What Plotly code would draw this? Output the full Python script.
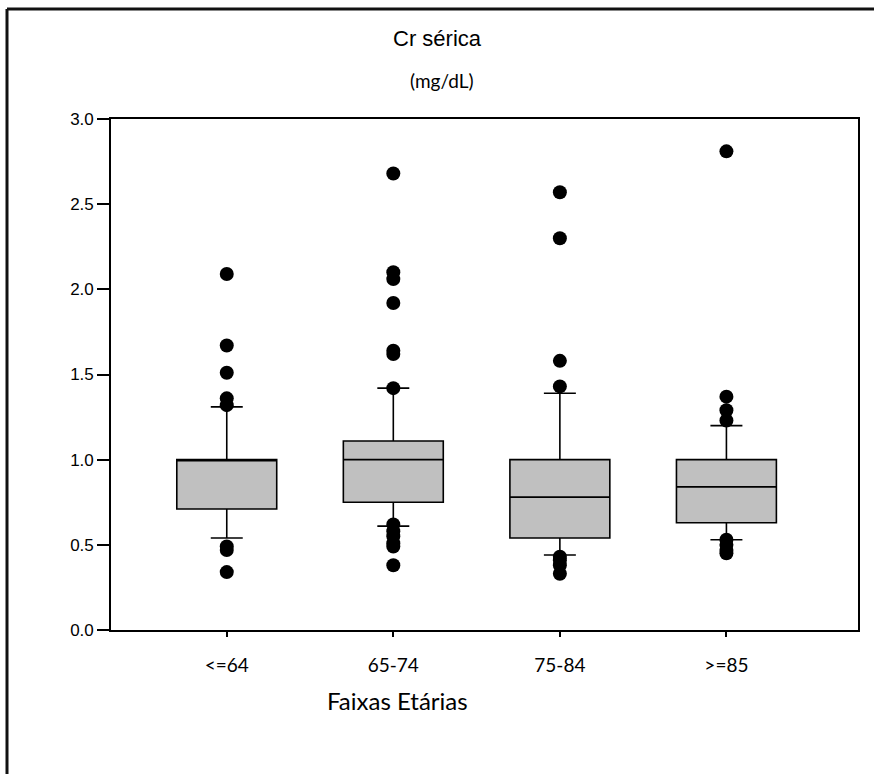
import plotly.graph_objects as go

categories = ["<=64", "65-74", "75-84", ">=85"]
q1 = [0.71, 0.75, 0.54, 0.63]
median = [1.0, 1.0, 0.78, 0.84]
q3 = [1.0, 1.11, 1.0, 1.0]
lowerfence = [0.54, 0.61, 0.44, 0.53]
upperfence = [1.31, 1.42, 1.39, 1.20]

outliers_le64 = [2.09, 1.67, 1.51, 1.36, 1.32, 0.49, 0.47, 0.34]
outliers_65_74 = [2.68, 2.10, 2.06, 1.92, 1.64, 1.62, 1.42, 0.62, 0.58, 0.55, 0.51, 0.49, 0.38]
outliers_75_84 = [2.57, 2.30, 1.58, 1.43, 0.43, 0.41, 0.38, 0.33]
outliers_ge85 = [2.81, 1.37, 1.29, 1.23, 0.53, 0.50, 0.47, 0.45]
outliers = [outliers_le64, outliers_65_74, outliers_75_84, outliers_ge85]

yticks = [0.0, 0.5, 1.0, 1.5, 2.0, 2.5, 3.0]

W, H = 874, 774
L, R, T, B = 111, 16, 119, 144
pw, ph = W - L - R, H - T - B

def px_x(p):
    return (p - L) / pw

def px_y(p):
    return (H - B - p) / ph

fig = go.Figure()
xs = list(range(len(categories)))
fig.add_trace(go.Box(
    x=xs, q1=q1, median=median, q3=q3,
    lowerfence=lowerfence, upperfence=upperfence,
    width=0.6, whiskerwidth=0.32,
    fillcolor="#c0c0c0", line=dict(color="black", width=1.6),
    boxpoints=False, showlegend=False, hoverinfo="skip",
))

ox, oy = [], []
for i, vals in enumerate(outliers):
    for v in vals:
        ox.append(i)
        oy.append(v)
fig.add_trace(go.Scatter(
    x=ox, y=oy, mode="markers",
    marker=dict(color="black", size=14, line=dict(width=0)),
    showlegend=False, hoverinfo="skip",
))

fig.update_layout(
    width=W, height=H,
    margin=dict(l=L, r=R, t=T, b=B),
    paper_bgcolor="white", plot_bgcolor="white",
    xaxis=dict(
        range=[-0.695, 3.79], tickmode="array", tickvals=xs, ticktext=categories,
        showline=True, linecolor="black", linewidth=1.6, mirror=True,
        ticks="outside", ticklen=5, tickcolor="black", tickwidth=1.5,
        ticklabelstandoff=12,
        showgrid=False, zeroline=False,
        tickfont=dict(family="Lato, sans-serif", size=19, color="black"),
    ),
    yaxis=dict(
        range=[0, 3.0], tickmode="array", tickvals=yticks,
        ticktext=[f"{v:.1f}" for v in yticks],
        showline=True, linecolor="black", linewidth=1.6, mirror=True,
        ticks="outside", ticklen=12, tickcolor="black", tickwidth=1.5,
        showgrid=False, zeroline=False,
        tickfont=dict(family="Liberation Sans, Arial, sans-serif", size=17, color="black"),
    ),
    annotations=[
        dict(text="Cr sérica", x=px_x(437), y=px_y(38), xref="paper", yref="paper",
             showarrow=False, xanchor="center", yanchor="middle",
             font=dict(family="Liberation Sans, Arial, sans-serif", size=22, color="black")),
        dict(text="(mg/dL)", x=px_x(441), y=px_y(81), xref="paper", yref="paper",
             showarrow=False, xanchor="center", yanchor="middle",
             font=dict(family="Lato, sans-serif", size=19, color="black")),
        dict(text="Faixas Etárias", x=px_x(397), y=px_y(700), xref="paper", yref="paper",
             showarrow=False, xanchor="center", yanchor="middle",
             font=dict(family="Lato, sans-serif", size=24, color="black")),
    ],
    shapes=[
        dict(type="line", xref="paper", yref="paper",
             x0=px_x(7), x1=px_x(880), y0=px_y(9), y1=px_y(9),
             line=dict(color="#111", width=3)),
        dict(type="line", xref="paper", yref="paper",
             x0=px_x(7), x1=px_x(7), y0=px_y(9), y1=px_y(790),
             line=dict(color="#111", width=3)),
    ],
)

fig.write_html("out.html")
